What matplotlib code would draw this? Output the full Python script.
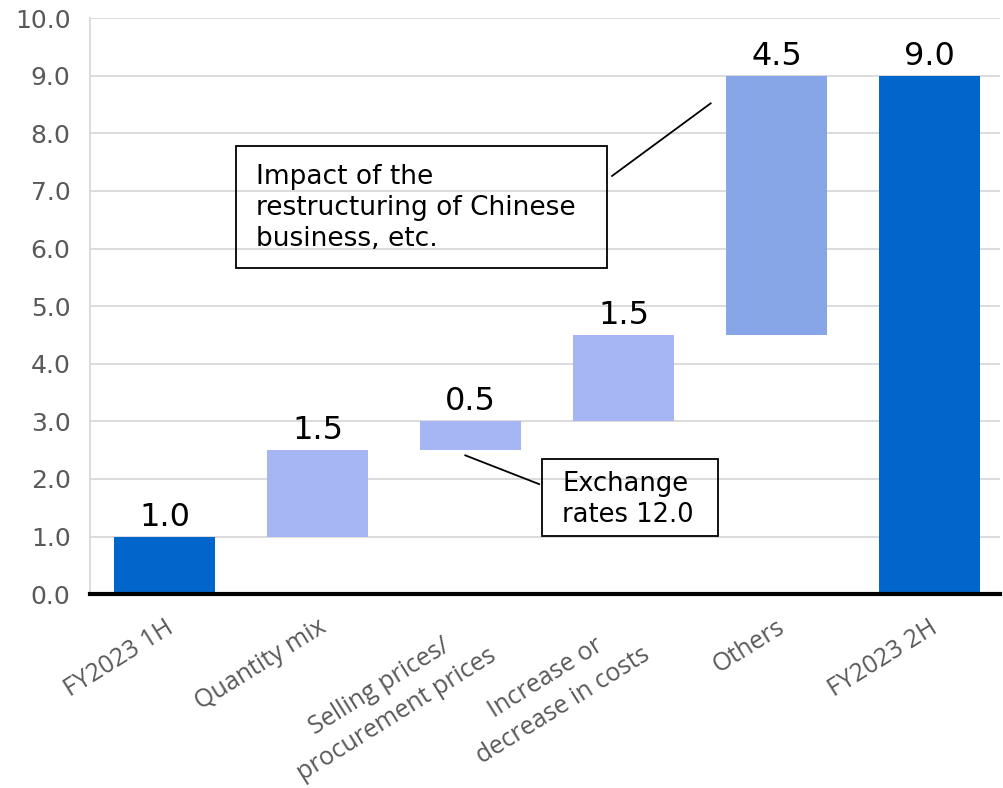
import matplotlib.pyplot as plt
from matplotlib.patches import Rectangle

categories = ["FY2023 1H", "Quantity mix", "Selling prices/\nprocurement prices",
              "Increase or\ndecrease in costs", "Others", "FY2023 2H"]
changes = [1.0, 1.5, 0.5, 1.5, 4.5, 9.0]
is_total = [True, False, False, False, False, True]
yticks = [0.0, 1.0, 2.0, 3.0, 4.0, 5.0, 6.0, 7.0, 8.0, 9.0, 10.0]

dark = "#0066CC"
light = "#A6B6F4"
others = "#86A6E8"

# waterfall: totals start at zero, steps stack on the running sum
bottoms = []
running = 0.0
for v, tot in zip(changes, is_total):
    if tot:
        bottoms.append(0.0)
        running = v
    else:
        bottoms.append(running)
        running += v
colors = [dark if t else light for t in is_total]
colors[4] = others

fig = plt.figure(figsize=(10.04, 7.88), dpi=100)
ax = fig.add_axes([0.0896, 0.246, 0.906, 0.731])

x = range(len(categories))
ax.bar(x, changes, bottom=bottoms, width=0.66, color=colors, zorder=2)
for i, (v, b) in enumerate(zip(changes, bottoms)):
    ax.text(i, b + v + 0.07, f"{v:.1f}", ha="center", va="bottom",
            fontsize=23, color="black", family="DejaVu Sans")

ax.set_xlim(-0.49, 5.46)
ax.set_ylim(0, 10)
ax.set_yticks(yticks)
ax.set_yticklabels([f"{t:.1f}" for t in yticks], fontsize=18, color="#595959")
ax.grid(axis="y", color="#D9D9D9", linewidth=1.3, zorder=0)
ax.tick_params(axis="y", length=0, pad=14)
ax.set_xticks(list(x))
ax.set_xticklabels(categories, rotation=32, ha="right", rotation_mode="anchor",
                   multialignment="center", fontsize=18, color="#595959",
                   family="Open Sans", linespacing=1.4)
ax.tick_params(axis="x", length=0, pad=15)

for s in ["top", "right"]:
    ax.spines[s].set_visible(False)
ax.spines["left"].set_color("#D9D9D9")
ax.spines["left"].set_linewidth(1.3)
ax.spines["bottom"].set_color("black")
ax.spines["bottom"].set_linewidth(3)
ax.spines["bottom"].set_zorder(3)

# callout boxes
ax.add_patch(Rectangle((0.463, 5.66), 2.427, 2.12, fill=False, edgecolor="black",
                       linewidth=1.3, zorder=4, clip_on=False))
ax.text(0.594, 7.47, "Impact of the\nrestructuring of Chinese\nbusiness, etc.",
        ha="left", va="top", fontsize=19, linespacing=1.25, zorder=5)
ax.plot([2.925, 3.57], [7.26, 8.52], color="black", linewidth=1.3, zorder=4)

ax.add_patch(Rectangle((2.467, 1.007), 1.153, 1.333, fill=False, edgecolor="black",
                       linewidth=1.3, zorder=4, clip_on=False))
ax.text(2.598, 2.14, "Exchange\nrates 12.0", ha="left", va="top",
        fontsize=18.5, linespacing=1.25, zorder=5)
ax.plot([1.965, 2.448], [2.41, 1.91], color="black", linewidth=1.3, zorder=4)

fig.savefig("out.png", dpi=100)
